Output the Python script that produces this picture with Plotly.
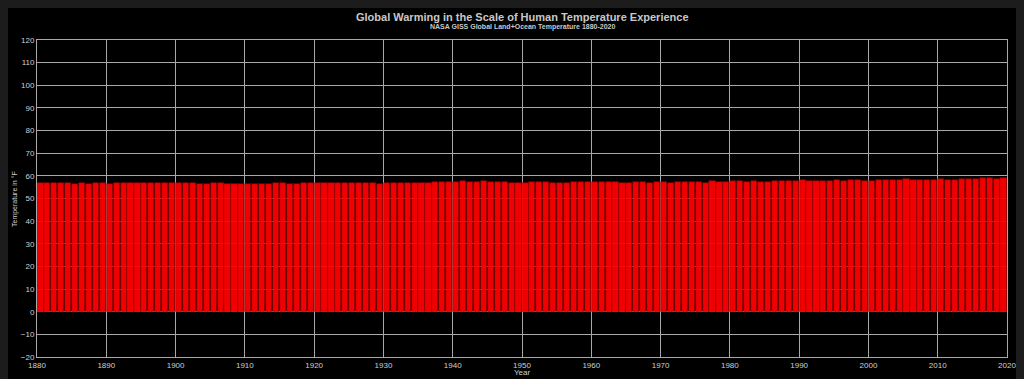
import plotly.graph_objects as go

years = list(range(1880, 2021))
temps_f = [
    56.91, 57.06, 57.02, 56.89, 56.70, 56.61, 56.64, 56.55, 56.89, 57.02,
    56.57, 56.80, 56.71, 56.64, 56.66, 56.80, 57.00, 57.00, 56.71, 56.89,
    57.06, 56.93, 56.70, 56.53, 56.35, 56.73, 56.80, 56.50, 56.43, 56.34,
    56.43, 56.41, 56.55, 56.59, 56.93, 56.95, 56.55, 56.37, 56.68, 56.71,
    56.71, 56.86, 56.70, 56.73, 56.71, 56.80, 57.02, 56.80, 56.84, 56.55,
    56.91, 57.02, 56.91, 56.68, 56.97, 56.84, 56.93, 57.15, 57.18, 57.16,
    57.43, 57.54, 57.33, 57.36, 57.56, 57.36, 57.07, 57.15, 57.00, 57.00,
    56.89, 57.07, 57.22, 57.34, 56.97, 56.95, 56.86, 57.29, 57.31, 57.25,
    57.15, 57.31, 57.25, 57.29, 56.84, 57.00, 57.09, 57.16, 57.06, 57.29,
    57.25, 57.06, 57.22, 57.49, 57.07, 57.18, 57.02, 57.52, 57.33, 57.49,
    57.67, 57.78, 57.45, 57.76, 57.49, 57.42, 57.52, 57.78, 57.90, 57.69,
    58.01, 57.94, 57.60, 57.61, 57.78, 58.01, 57.79, 58.03, 58.30, 57.88,
    57.90, 58.17, 58.33, 58.32, 58.15, 58.42, 58.35, 58.39, 58.17, 58.37,
    58.50, 58.30, 58.37, 58.42, 58.55, 58.82, 59.02, 58.86, 58.73, 58.96,
    59.04,
]

title_text = "Global Warming in the Scale of Human Temperature Experience"
subtitle_text = "NASA GISS Global Land+Ocean Temperature 1880-2020"
x_title = "Year"
y_title = "Temperature in °F"

# The page body has an 8px margin, so the figure starts at (8, 8) on screen.
OFF = 8
W, H = 1024, 379
L, T = 37 - OFF, 40 - OFF
R = W - (1007 - OFF)
B = H - (357 - OFF)
pw, ph = W - L - R, H - T - B

def sx(p):  # screen x -> paper x
    return (p - OFF - L) / pw

def sy(p):  # screen y -> paper y
    return (H - B - (p - OFF)) / ph

grid = "#a8a8a8"
txt = "#cfcfcf"
font = "Liberation Sans, Arial, sans-serif"

fig = go.Figure()
fig.add_trace(go.Bar(
    x=years, y=temps_f,
    width=0.88, offset=0.06,
    marker=dict(color="#ff0000", line=dict(width=0.6, color="#8a0000")),
    opacity=0.94,
    hovertemplate="%{x}: %{y:.2f} °F<extra></extra>",
))

fig.update_layout(
    width=W, height=H,
    margin=dict(l=L, r=R, t=T, b=B),
    paper_bgcolor="#000000",
    plot_bgcolor="#000000",
    showlegend=False,
    bargap=0,
    font=dict(family=font, color=txt, size=8),
    annotations=[
        dict(text="<b>" + title_text + "</b>", xref="paper", yref="paper",
             x=sx(522), y=sy(17), xanchor="center", yanchor="middle",
             showarrow=False, font=dict(size=11, color="#c8c8c8", family=font)),
        dict(text="<b>" + subtitle_text + "</b>", xref="paper", yref="paper",
             x=sx(522), y=sy(27), xanchor="center", yanchor="middle",
             showarrow=False, font=dict(size=7, color="#c8c8c8", family=font)),
        dict(text=x_title, xref="paper", yref="paper",
             x=sx(522), y=sy(373), xanchor="center", yanchor="middle",
             showarrow=False, font=dict(size=8, color=txt, family=font)),
        dict(text=y_title, xref="paper", yref="paper", textangle=-90,
             x=sx(15), y=sy(199), xanchor="center", yanchor="middle",
             showarrow=False, font=dict(size=7, color=txt, family=font)),
    ],
    xaxis=dict(
        range=[1880, 2020], tick0=1880, dtick=10, tickmode="linear",
        showgrid=True, gridcolor=grid, gridwidth=1,
        showline=True, linecolor=grid, linewidth=1, mirror=True,
        zeroline=False, ticks="", tickfont=dict(size=8, color=txt),
    ),
    yaxis=dict(
        range=[-20, 120], tick0=-20, dtick=10, tickmode="linear",
        showgrid=True, gridcolor=grid, gridwidth=1,
        showline=True, linecolor=grid, linewidth=1, mirror=True,
        zeroline=False, ticks="", tickfont=dict(size=8, color=txt),
    ),
)

fig.write_html(
    "out.html",
    post_script="document.body.style.background='#1c1c1c';"
                "document.documentElement.style.background='#1c1c1c';",
)
